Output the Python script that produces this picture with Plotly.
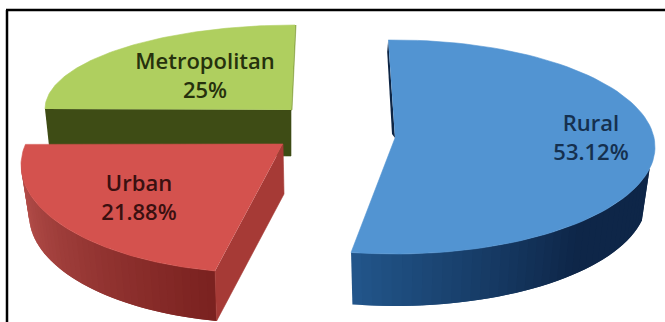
import numpy as np
import plotly.graph_objects as go

# ---- data ----
categories = ["Rural", "Urban", "Metropolitan"]
shares = [53.12, 21.88, 25]
share_labels = ["53.12%", "21.88%", "25%"]

# ---- drawing geometry (pixels), one entry per slice ----
W, H = 665, 322
centres = [(395, 147), (262, 165), (295, 109)]
radii = [(260, 107), (241, 108), (250, 84)]
apexes = [(395, 138), (283, 144), (291, 110)]
depths = [52, 50, 46]
start_bias = [-1.5, 0, 0]   # perspective bias on the slice's first edge, degrees
end_bias = [-1.5, 11, 0]    # perspective bias on the slice's last edge, degrees
wall_from = [100, 0, 0]     # rim angle at which the outer wall becomes visible
grade_speed = [1.6, 1.0, 1.0]
label_pos = [(591, 140), (139, 200), (205, 78)]

top_cols = ["#5294d2", "#d4524e", "#afcf5f"]
side_from = ["#22558a", "#b9524e", "#3e4c15"]
side_to = ["#0e2648", "#7b2220", "#3e4c15"]
text_cols = ["#15304f", "#3a1010", "#26310d"]
face_cols = ["#0d2545", "#a63a36", "#3e4c15"]


def hexrgb(c):
    return np.array([int(c[i:i + 2], 16) for i in (1, 3, 5)], float)


def mix(a, b, t):
    r = hexrgb(a) * (1 - t) + hexrgb(b) * t
    return "rgb(%d,%d,%d)" % tuple(r)


def ellipse(c, r, deg, shrink=0, dy=0):
    t = np.radians(deg)
    return c[0] + (r[0] - shrink) * np.sin(t), c[1] + dy - r[1] * np.cos(t)


fig = go.Figure()


def poly(xs, ys, colour, lw=0.6):
    fig.add_trace(go.Scatter(
        x=list(xs), y=list(ys), mode="lines", fill="toself", fillcolor=colour,
        line=dict(color=colour, width=lw), hoverinfo="skip", showlegend=False))


bounds = np.cumsum([0] + [v * 3.6 for v in shares])

for i in (0, 2, 1):  # back to front: Rural, Metropolitan, Urban
    c, r, a, d = centres[i], radii[i], apexes[i], depths[i]
    th0 = bounds[i] + start_bias[i]
    th1 = bounds[i + 1] + end_bias[i]
    th = np.linspace(th0, th1, 90)
    x, y = ellipse(c, r, th)

    # visible outer wall (the part of the rim that faces the viewer), graded
    wall = th[(th >= wall_from[i]) & (th <= 272)]
    if len(wall) > 1:
        vis = np.linspace(wall[-1], wall[0], 40)
        tx, ty = ellipse(c, r, vis)
        bx, by = ellipse(c, r, vis, shrink=8, dy=d)
        for k in range(len(vis) - 1):
            f = min(1, grade_speed[i] * k / (len(vis) - 2))
            e = min(k + 2, len(vis) - 1)  # overlap the next band to hide seams
            poly([tx[k], tx[e], bx[e], bx[k]],
                 [ty[k], ty[e], by[e], by[k]],
                 mix(side_from[i], side_to[i], f), lw=0)

    # cut faces
    if categories[i] == "Rural":
        poly([x[0], a[0], a[0] - 3, x[0] - 1],
             [y[0], a[1], a[1] - 4, y[0] + 12], face_cols[i], lw=0)
    elif categories[i] == "Urban":
        ex, ey = ellipse(c, r, th[0], shrink=8, dy=d)
        poly([a[0], a[0] + 1, ex, x[0]], [a[1], a[1] + d, ey, y[0]], face_cols[i])
    else:
        poly([x[-1], a[0], a[0] + 1, x[-1] + 1], [y[-1], a[1], a[1], y[-1]], "#84a03c")
        poly([x[0], a[0], a[0], x[0] + 5], [y[0], a[1], a[1] + d, y[0] + d], face_cols[i])

    # top surface
    poly(list(x) + [a[0]], list(y) + [a[1]], top_cols[i])

fig.add_trace(go.Scatter(
    x=[p[0] for p in label_pos], y=[p[1] for p in label_pos], mode="text",
    text=[f"{n}<br>{s}" for n, s in zip(categories, share_labels)],
    textposition="middle center",
    textfont=dict(family="Open Sans", size=22, color=text_cols, weight=600),
    hoverinfo="skip", showlegend=False))

fig.update_layout(
    width=W, height=H, margin=dict(l=0, r=0, t=0, b=0),
    paper_bgcolor="white", plot_bgcolor="white", showlegend=False,
    xaxis=dict(range=[0, W], visible=False, fixedrange=True),
    yaxis=dict(range=[H, 0], visible=False, fixedrange=True),
    shapes=[
        dict(type="line", xref="x", yref="y", x0=6, x1=665, y0=10, y1=10,
             line=dict(color="black", width=2.5)),
        dict(type="line", xref="x", yref="y", x0=7, x1=7, y0=10, y1=322,
             line=dict(color="black", width=2.5)),
    ],
)

fig.write_html("out.html", config={"displayModeBar": False},
               post_script="document.body.style.margin='0';")
